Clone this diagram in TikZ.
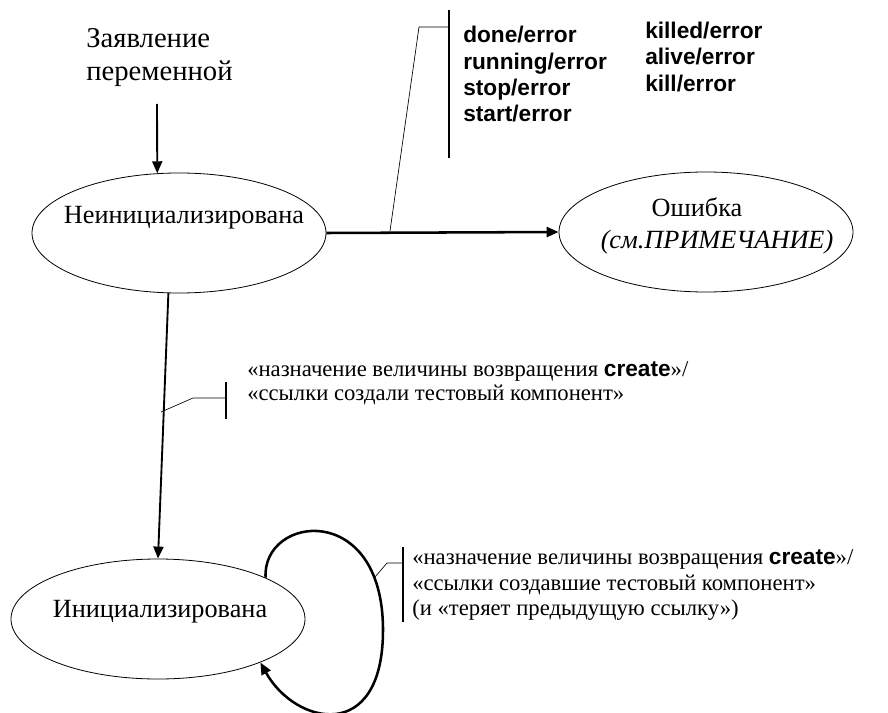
\documentclass[tikz,border=0pt]{standalone}
\usepackage{fontspec}
\setmainfont{Liberation Serif}
\newfontfamily\labelsans{Liberation Sans}
\usetikzlibrary{shapes.geometric,arrows.meta}

\tikzset{
  state/.style={ellipse, draw, line width=0.6pt, minimum width=220.5pt,
                minimum height=90pt, inner sep=0pt},
  statetext/.style={inner sep=0pt, font=\fontsize{19.7}{22}\selectfont},
  decltext/.style={inner sep=0pt, anchor=base west, font=\fontsize{21.5}{24}\selectfont},
  evtext/.style={inner sep=0pt, anchor=base west, font=\labelsans\bfseries\fontsize{17}{20}\selectfont},
  acttext/.style={inner sep=0pt, anchor=base west, font=\fontsize{17}{19}\selectfont},
  trans/.style={line width=1.9pt, -{Triangle[length=9pt,width=7.5pt]}},
  thintrans/.style={trans, line width=1.4pt},
  bar/.style={line width=1.4pt},
  leader/.style={line width=0.5pt},
}

\begin{document}
\begin{tikzpicture}[x=0.75pt,y=-0.75pt]
\useasboundingbox (0,0) rectangle (888,713);

% states
\node[state] (uninit) at (179,233) {};
\node[state] (err) at (706,232) {};
\node[state] (init) at (158,619) {};

\node[statetext, anchor=base] (tUninit) at (184,223) {Неинициализирована};
\node[statetext, anchor=base] (tErr1) at (697,216) {Ошибка};
\node[statetext, anchor=base] (tErr2) at (717,248) {\itshape(см.ПРИМЕЧАНИЕ)};
\node[statetext, anchor=base] (tInit) at (160,617) {Инициализирована};

% declaration entry
\node[decltext] (decl1) at (86,48) {Заявление};
\node[decltext] (decl2) at (86,81) {переменной};
\coordinate (declStart) at (157,104);
\draw[thintrans] (declStart) -- (uninit.110);

% transition to error
\draw[trans] (uninit.east) -- (err.west);
\coordinate (errHit) at (390,231);
\coordinate (errBarTop) at (449,10);
\coordinate (errBarBot) at (449,158);
\coordinate (errKnee) at (419,27);
\draw[bar] (errBarTop) -- (errBarBot);
\draw[leader] (errHit) -- (errKnee) -- (errKnee -| errBarTop);

\node[evtext] (ev1) at (463,43) {done/error};
\node[evtext] (ev2) at (463,70) {running/error};
\node[evtext] (ev3) at (463,96) {stop/error};
\node[evtext] (ev4) at (463,122) {start/error};
\node[evtext] (ev5) at (645,39) {killed/error};
\node[evtext] (ev6) at (645,65) {alive/error};
\node[evtext] (ev7) at (645,92) {kill/error};

% creation
\draw[thintrans] (uninit.260) -- (init.north);
\coordinate (crHit) at (161,412);
\coordinate (crKnee) at (193,398);
\coordinate (crBarTop) at (226,382);
\coordinate (crBarBot) at (226,419);
\draw[bar] (crBarTop) -- (crBarBot);
\draw[leader] (crHit) -- (crKnee) -- (crKnee -| crBarTop);
\node[acttext] (cr1) at (247,376) {«назначение величины возвращения {\labelsans\bfseries create}»/};
\node[acttext] (cr2) at (247,400) {«ссылки создали тестовый компонент»};

% re-creation self loop
\coordinate (loopR) at (383,630);
\draw[trans] (init.21) .. controls (262,515) and (383,500) .. (loopR)
  .. controls (383,745) and (295,725) .. (init.337);
\coordinate (lpHit) at (375,577);
\coordinate (lpKnee) at (387,563);
\coordinate (lpBarTop) at (403,547);
\coordinate (lpBarBot) at (403,622);
\draw[bar] (lpBarTop) -- (lpBarBot);
\draw[leader] (lpHit) -- (lpKnee) -- (lpKnee -| lpBarTop);
\node[acttext] (lp1) at (412,564) {«назначение величины возвращения {\labelsans\bfseries create}»/};
\node[acttext] (lp2) at (412,590) {«ссылки создавшие тестовый компонент»};
\node[acttext] (lp3) at (412,615) {(и «теряет предыдущую ссылку»)};
\end{tikzpicture}
\end{document}
